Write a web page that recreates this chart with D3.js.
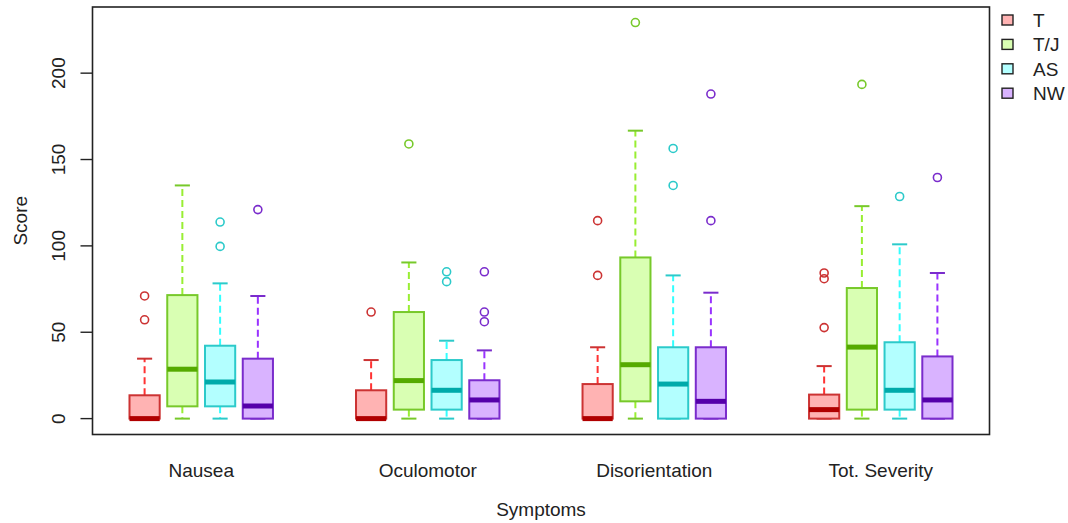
<!DOCTYPE html>
<html>
<head>
<meta charset="utf-8">
<script src="https://cdn.jsdelivr.net/npm/d3@7"></script>
<style>
  body { margin: 0; background: #fff; }
  svg text { font-family: "Liberation Sans", Arial, sans-serif; fill: #222; }
</style>
</head>
<body>
<svg width="1068" height="523"></svg>
<script>
// Data, rows = symptoms, columns = groups
var symptoms = ["Nausea", "Oculomotor", "Disorientation", "Tot. Severity"];
var groups = ["T", "T/J", "AS", "NW"];
var yTicks = [0, 50, 100, 150, 200];

var whiskerLow = [[0, 0, 0, 0], [0, 0, 0, 0], [0, 0, 0, 0], [0, 0, 0, 0]];
var q1 = [[0, 7.1, 7.1, 0], [0, 5.2, 5.2, 0], [0, 10, 0, 0], [0, 5.2, 5.2, 0]];
var median = [[0, 28.6, 21.2, 7.3], [0, 22, 16.4, 10.8], [0, 31.2, 20, 10], [5.2, 41.4, 16.4, 10.8]];
var q3 = [[13.5, 71.5, 42.2, 34.7], [16.4, 61.7, 33.9, 22.2], [20, 93.3, 41.3, 41.3], [13.9, 75.6, 44.2, 36]];
var whiskerHigh = [[34.7, 135, 78.3, 71], [33.9, 90.4, 45.1, 39.5], [41.3, 166.7, 82.9, 72.9], [30.4, 123, 100.9, 84.3]];
var outliers = [
    [[57.2, 71], [], [99.7, 113.8], [121]],
    [[61.7], [159], [79.3, 85], [56.1, 61.7, 85]],
    [[82.9, 114.6], [229.3], [135, 156.4], [114.6, 187.9]],
    [[52.7, 81, 84.3], [193.5], [128.6], [139.6]]
];

// colours per group
var fillCol = ["#ffb3b3", "#d9ffb3", "#b3ffff", "#d9b3ff"];
var lineCol = ["#cc3333", "#77c92a", "#2ccaca", "#7a2ccc"];
var medCol = ["#b00000", "#55aa00", "#00aaaa", "#5500aa"];
var whiskCol = ["#ff3333", "#99ee33", "#33ffff", "#9933ff"];

var svg = d3.select("svg");

var plotL = 92.5, plotR = 989.5, plotT = 7, plotB = 434.5;
var fs = "19px";

// x: boxes at 1..4, 7..10, 13..16, 19..22
var x = d3.scaleLinear().domain([-0.38, 23.38]).range([plotL, plotR]);
var y = d3.scaleLinear().domain([-9.2, 238.3]).range([plotB, plotT]);
var boxW = x(0.8) - x(0);

function pos(s, g) { return s * 6 + g + 1; }

// flatten into one record per box
var boxes = [];
symptoms.forEach(function (sym, s) {
    groups.forEach(function (grp, g) {
        boxes.push({s: s, g: g, cx: x(pos(s, g)),
            lo: whiskerLow[s][g], q1: q1[s][g], med: median[s][g],
            q3: q3[s][g], hi: whiskerHigh[s][g], out: outliers[s][g]});
    });
});

var bx = svg.append("g").selectAll("g")
    .data(boxes)
    .enter()
    .append("g");

// dashed whiskers
bx.append("line")
    .attr("x1", function (d) { return d.cx; })
    .attr("x2", function (d) { return d.cx; })
    .attr("y1", function (d) { return y(d.q3); })
    .attr("y2", function (d) { return y(d.hi); })
    .style("stroke", function (d) { return whiskCol[d.g]; })
    .style("stroke-width", 2)
    .style("stroke-dasharray", "7,4");
bx.append("line")
    .attr("x1", function (d) { return d.cx; })
    .attr("x2", function (d) { return d.cx; })
    .attr("y1", function (d) { return y(d.q1); })
    .attr("y2", function (d) { return y(d.lo); })
    .style("stroke", function (d) { return whiskCol[d.g]; })
    .style("stroke-width", 2)
    .style("stroke-dasharray", "7,4");

// staples
[["hi"], ["lo"]].forEach(function (k) {
    bx.append("line")
        .attr("x1", function (d) { return d.cx - boxW / 4; })
        .attr("x2", function (d) { return d.cx + boxW / 4; })
        .attr("y1", function (d) { return y(d[k[0]]); })
        .attr("y2", function (d) { return y(d[k[0]]); })
        .style("stroke", function (d) { return lineCol[d.g]; })
        .style("stroke-width", 2);
});

// boxes
bx.append("rect")
    .attr("x", function (d) { return d.cx - boxW / 2; })
    .attr("width", boxW)
    .attr("y", function (d) { return y(d.q3); })
    .attr("height", function (d) { return y(d.q1) - y(d.q3); })
    .style("fill", function (d) { return fillCol[d.g]; })
    .style("stroke", function (d) { return lineCol[d.g]; })
    .style("stroke-width", 2);

// medians
bx.append("line")
    .attr("x1", function (d) { return d.cx - boxW / 2; })
    .attr("x2", function (d) { return d.cx + boxW / 2; })
    .attr("y1", function (d) { return y(d.med); })
    .attr("y2", function (d) { return y(d.med); })
    .style("stroke", function (d) { return medCol[d.g]; })
    .style("stroke-width", 5);

// outliers
bx.selectAll("circle")
    .data(function (d) { return d.out.map(function (v) { return {v: v, cx: d.cx, g: d.g}; }); })
    .enter()
    .append("circle")
    .attr("cx", function (d) { return d.cx; })
    .attr("cy", function (d) { return y(d.v); })
    .attr("r", 4)
    .style("fill", "none")
    .style("stroke", function (d) { return lineCol[d.g]; })
    .style("stroke-width", 1.6);

// frame
svg.append("rect")
    .attr("x", plotL).attr("y", plotT)
    .attr("width", plotR - plotL).attr("height", plotB - plotT)
    .style("fill", "none")
    .style("stroke", "#222")
    .style("stroke-width", 1.6);

// y axis ticks + rotated labels
var yAx = svg.append("g");
yAx.selectAll("line")
    .data(yTicks)
    .enter()
    .append("line")
    .attr("x1", plotL - 12).attr("x2", plotL)
    .attr("y1", function (d) { return y(d); })
    .attr("y2", function (d) { return y(d); })
    .style("stroke", "#222")
    .style("stroke-width", 1.4);
yAx.selectAll("text")
    .data(yTicks)
    .enter()
    .append("text")
    .attr("transform", function (d) { return "translate(64.5," + y(d) + ") rotate(-90)"; })
    .attr("text-anchor", "middle")
    .style("font-size", fs)
    .text(function (d) { return d; });

svg.append("text")
    .attr("transform", "translate(27," + ((plotT + plotB) / 2) + ") rotate(-90)")
    .attr("text-anchor", "middle")
    .style("font-size", fs)
    .text("Score");

// x labels
svg.append("g").selectAll("text")
    .data(symptoms)
    .enter()
    .append("text")
    .attr("x", function (d, i) { return x(i * 6 + 2.5); })
    .attr("y", 477)
    .attr("text-anchor", "middle")
    .style("font-size", fs)
    .text(function (d) { return d; });

svg.append("text")
    .attr("x", (plotL + plotR) / 2)
    .attr("y", 516)
    .attr("text-anchor", "middle")
    .style("font-size", fs)
    .text("Symptoms");

// legend
var lg = svg.append("g").selectAll("g")
    .data(groups)
    .enter()
    .append("g")
    .attr("transform", function (d, i) { return "translate(1002," + (20 + i * 24.4) + ")"; });
lg.append("rect")
    .attr("x", 0).attr("y", -5)
    .attr("width", 11).attr("height", 10)
    .style("fill", function (d, i) { return fillCol[i]; })
    .style("stroke", "#222")
    .style("stroke-width", 1.4);
lg.append("text")
    .attr("x", 31).attr("y", 7)
    .style("font-size", fs)
    .text(function (d) { return d; });
</script>
</body>
</html>
